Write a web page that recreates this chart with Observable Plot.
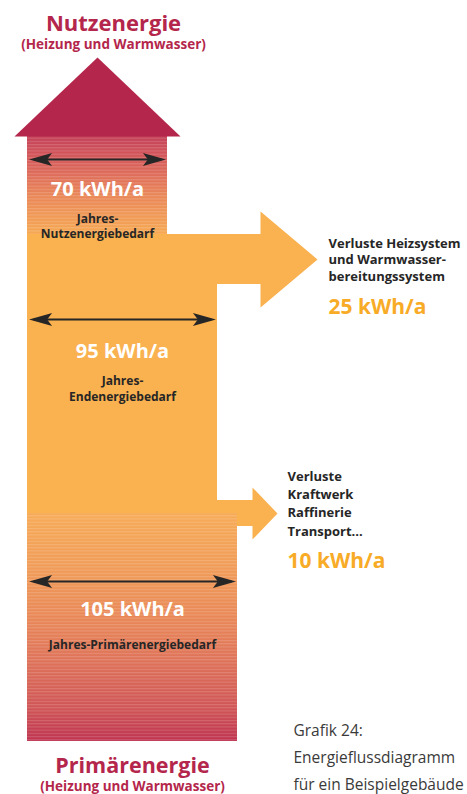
<!DOCTYPE html>
<html><head><meta charset="utf-8">
<script src="https://cdn.jsdelivr.net/npm/d3@7"></script>
<script src="https://cdn.jsdelivr.net/npm/@observablehq/plot@0.6"></script>
<style>
html,body{margin:0;padding:0;background:#fff;overflow:hidden;}
#chart svg{display:block;overflow:hidden;}
</style></head><body><div id="chart"></div>
<script>
// ---------- data ----------
const stageNames = ["Nutzenergie", "Endenergie", "Primärenergie"];
const stageValues = [70, 95, 105];
const stageLabels = [["Jahres-", "Nutzenergiebedarf"], ["Jahres-", "Endenergiebedarf"], ["Jahres-Primärenergiebedarf"]];
const lossValues = [25, 10];
const lossLabels = [["Verluste Heizsystem", "und Warmwasser-", "bereitungssystem"], ["Verluste", "Kraftwerk", "Raffinerie", "Transport..."]];
const unit = "kWh/a";
const headerLines = ["Nutzenergie", "(Heizung und Warmwasser)"];
const footerLines = ["Primärenergie", "(Heizung und Warmwasser)"];
const captionLines = ["Grafik 24:", "Energieflussdiagramm", "für ein Beispielgebäude"];

// ---------- styles ----------
const ORANGE = "#fab14f", CRIMSON = "#b4264b", DARK = "#262626", GOLD = "#f8ab26", GREY = "#3a3a3a";
const FONT = "Open Sans";

// ---------- layout ----------
const W = 467, H = 794;
const PX = 2;        // pixels per kWh
const X0 = 27;       // left edge of the flow in pixels
const xDomain = [-X0 / PX, (W - X0) / PX];
const Y = {apex: 57, useTop: 136, useBottom: 234, endBottom: 513, primBottom: 741};
const [vUse, vEnd, vPrim] = stageValues;
const [lossHeat, lossSupply] = lossValues;

const gradRects = [
  {x1: 0, x2: vUse, y1: Y.useTop, y2: Y.useBottom, fill: "url(#gTop)"},
  {x1: 0, x2: vPrim, y1: Y.endBottom, y2: Y.primBottom, fill: "url(#gBottom)"}
];
const branches = [
  {value: lossHeat, from: vEnd, yTop: Y.useBottom, gap: 21.5, headLen: 28.5, headHalf: 48},
  {value: lossSupply, from: vEnd, yTop: Y.endBottom - 13, gap: 17.5, headLen: 12.5, headHalf: 26}
];
const shaftH = b => Math.max(b.value * PX, 26);
const orangeRects = [
  {x1: 0, x2: vEnd, y1: Y.useBottom, y2: Y.endBottom + 0.5},
  ...branches.map(b => ({x1: b.from - 1, x2: b.from + b.gap + 0.5, y1: b.yTop, y2: b.yTop + shaftH(b)}))
];
const orangePolys = branches.flatMap((b, i) => {
  const cy = b.yTop + shaftH(b) / 2, xb = b.from + b.gap;
  return [{id: i, x: xb, y: cy - b.headHalf}, {id: i, x: xb + b.headLen, y: cy}, {id: i, x: xb, y: cy + b.headHalf}];
});
const topHead = [{x: -6.5, y: Y.useTop}, {x: vUse / 2, y: Y.apex}, {x: vUse + 6.5, y: Y.useTop}];

// double arrows
const arrowY = [159, 319, 581];
const dblLines = stageValues.map((v, i) => ({x1: 3, x2: v - 3, y: arrowY[i]}));
function headPts(id, xt, y, dir) {
  const back = xt - dir * 11.5, notch = xt - dir * 9;
  return [{id, x: xt, y}, {id, x: back, y: y - 6.5}, {id, x: notch, y}, {id, x: back, y: y + 6.5}];
}
const dblHeads = stageValues.flatMap((v, i) => [
  ...headPts("l" + i, 0.8, arrowY[i], -1),
  ...headPts("r" + i, v - 0.8, arrowY[i], 1)
]);

// texts
const valueBaseline = [195, 357, 615];
const valueTexts = stageValues.map((v, i) => ({x: v / 2, y: valueBaseline[i], text: `${v} ${unit}`}));
const labelBaselines = [[222, 237.5], [384.5, 400], [648]];
const labelTexts = stageLabels.flatMap((lines, i) => lines.map((t, j) => ({x: stageValues[i] / 2, y: labelBaselines[i][j], text: t})));
const headerTexts = [
  {x: 43, y: 30, text: headerLines[0], size: 22},
  {x: 43, y: 48, text: headerLines[1], size: 13.5},
  {x: vPrim / 2, y: 772, text: footerLines[0], size: 21.5},
  {x: vPrim / 2, y: 790.5, text: footerLines[1], size: 13.5}
];
const lossX = [150.5, 130];
const lossLineY = [[247, 263.5, 280], [480, 498.3, 516.6, 535]];
const lossValueY = [313, 567];
const lossLabelTexts = lossLabels.flatMap((lines, i) => lines.map((t, j) => ({x: lossX[i], y: lossLineY[i][j], text: t})));
const lossValueTexts = lossValues.map((v, i) => ({x: lossX[i], y: lossValueY[i], text: `${v} ${unit}`}));
const captionY = [735, 762, 789];
const captionTexts = captionLines.map((t, i) => ({x: 133, y: captionY[i], text: t}));

const plot = Plot.plot({
  width: W, height: H, margin: 0,
  x: {domain: xDomain, range: [0, W], axis: null},
  y: {domain: [0, H], range: [0, H], axis: null},
  style: {fontFamily: FONT, background: "white", overflow: "hidden"},
  marks: [
    Plot.rect(orangeRects, {x1: "x1", x2: "x2", y1: "y1", y2: "y2", fill: ORANGE}),
    Plot.line(orangePolys, {x: "x", y: "y", z: "id", fill: ORANGE, stroke: "none"}),
    Plot.rect(gradRects, {x1: "x1", x2: "x2", y1: "y1", y2: "y2", fill: d => d.fill}),
    Plot.rect(gradRects, {x1: "x1", x2: "x2", y1: "y1", y2: "y2", fill: "url(#stripes)"}),
    Plot.line(topHead, {x: "x", y: "y", fill: CRIMSON, stroke: "none"}),
    Plot.link(dblLines, {x1: "x1", x2: "x2", y1: "y", y2: "y", stroke: DARK, strokeWidth: 2}),
    Plot.line(dblHeads, {x: "x", y: "y", z: "id", fill: DARK, stroke: "none"}),
    Plot.text(valueTexts, {x: "x", y: "y", text: "text", lineAnchor: "bottom", fill: "white", fontSize: 20, fontWeight: 700}),
    Plot.text(labelTexts, {x: "x", y: "y", text: "text", lineAnchor: "bottom", fill: DARK, fontSize: 12, fontWeight: 700}),
    Plot.text(headerTexts, {x: "x", y: "y", text: "text", lineAnchor: "bottom", fill: CRIMSON, fontSize: d => d.size, fontWeight: 700}),
    Plot.text(lossLabelTexts, {x: "x", y: "y", text: "text", lineAnchor: "bottom", textAnchor: "start", fill: DARK, fontSize: 13, fontWeight: 700}),
    Plot.text(lossValueTexts, {x: "x", y: "y", text: "text", lineAnchor: "bottom", textAnchor: "start", fill: GOLD, fontSize: 21, fontWeight: 700}),
    Plot.text(captionTexts, {x: "x", y: "y", text: "text", lineAnchor: "bottom", textAnchor: "start", fill: GREY, fontSize: 15.5, fontWeight: 400})
  ]
});

// gradients & stripes
const defs = d3.select(plot).insert("defs", ":first-child");
function grad(id, stops) {
  const g = defs.append("linearGradient").attr("id", id).attr("x1", 0).attr("y1", 0).attr("x2", 0).attr("y2", 1);
  stops.forEach(([o, c]) => g.append("stop").attr("offset", o).attr("stop-color", c));
}
grad("gTop", [[0, "#c44058"], [0.3, "#d9625a"], [0.6, "#e98658"], [1, "#f6a954"]]);
grad("gBottom", [[0, "#f7ab58"], [0.25, "#f09b58"], [0.45, "#e98958"], [0.65, "#de7259"], [0.85, "#d05656"], [1, "#bf3450"]]);
const pat = defs.append("pattern").attr("id", "stripes").attr("patternUnits", "userSpaceOnUse").attr("width", 20).attr("height", 3.2);
pat.append("rect").attr("x", 0).attr("y", 0).attr("width", 20).attr("height", 1.1).attr("fill", "white").attr("fill-opacity", 0.16);

document.getElementById("chart").appendChild(plot);
</script></body></html>
